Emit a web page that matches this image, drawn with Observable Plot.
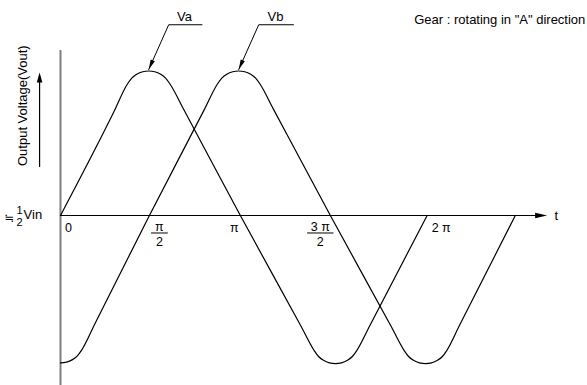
<!DOCTYPE html>
<html>
<head>
<meta charset="utf-8">
<script src="https://cdn.jsdelivr.net/npm/d3@7"></script>
<script src="https://cdn.jsdelivr.net/npm/@observablehq/plot@0.6"></script>
<style>
  html, body { margin: 0; padding: 0; background: #fff; }
  #chart svg { display: block; }
</style>
</head>
<body>
<div id="chart"></div>
<script>
// ---- data (t in multiples of π, v relative to ½Vin; peak = 1) ----
const vaT = [0, 0.293, 0.368, 0.392, 0.419, 0.452, 0.485, 0.518, 0.551, 0.578, 0.602, 0.680, 0.989,
             1.325, 1.395, 1.419, 1.446, 1.479, 1.512, 1.545, 1.578, 1.605, 1.629, 1.700, 2.016];
const vaV = [0, 0.716, 0.910, 0.951, 0.9775, 0.995, 1.0, 0.995, 0.9775, 0.951, 0.910, 0.728, 0,
             -0.772, -0.935, -0.976, -1.0025, -1.020, -1.025, -1.020, -1.0025, -0.976, -0.935, -0.765, 0];
const vbT = [0, 0.033, 0.066, 0.093, 0.117, 0.190, 0.489, 0.790, 0.863, 0.887, 0.914, 0.947, 0.980,
             1.013, 1.046, 1.073, 1.097, 1.170, 1.484, 1.820, 1.890, 1.914, 1.941, 1.974, 2.007,
             2.040, 2.073, 2.100, 2.124, 2.195, 2.501];
const vbV = [-1.020, -1.015, -0.9975, -0.971, -0.930, -0.747, 0, 0.731, 0.910, 0.951, 0.9775, 0.995, 1.0,
             0.995, 0.9775, 0.951, 0.910, 0.738, 0, -0.772, -0.935, -0.976, -1.0025, -1.020, -1.025,
             -1.020, -1.0025, -0.976, -0.935, -0.758, 0];

const seriesNames = ["Va", "Vb"];
const leaderT = [[0.778, 0.595, 0.485], [1.281, 1.090, 0.980]];
const leaderV = [[1.320, 1.320, 1.010], [1.320, 1.320, 1.010]];
const seriesLabelT = [0.682, 1.182];
const seriesLabelV = [1.372, 1.372];

const tickValues = [0, 0.5, 1, 1.5, 2];
const tickNumer  = ["0", "π", "π", "3 π", "2 π"];
const tickDenom  = [null, "2", null, "2", null];

const yLabel = "Output Voltage(Vout)";
const xLabel = "t";
const originLabel = ["\u2252", "1", "2", "Vin"];
const note = "Gear : rotating in \"A\" direction";

// axis extents (data units)
const xAxisEnd = 2.676;
const yAxisTop = 1.142, yAxisBottom = -1.176;
const yArrowT = -0.115, yArrowFrom = 0.339, yArrowTo = 0.990;

// ---- styles / layout ----
const W = 587, H = 385;
const FONT = "Liberation Sans, Arial, Helvetica, sans-serif";
const xScaleOpt = {domain: [0, 2.7], range: [60, 551]};
const yScaleOpt = {domain: [-1.025, 1], range: [363.1, 70.5]};
const xs = Plot.scale({x: xScaleOpt});
const ys = Plot.scale({y: yScaleOpt});
const tickDx = [8, 8, -8, -13, 17];     // label offsets (px) from tick value
const fracHalf = [0, 8, 0, 12.8, 0];    // half width of fraction bar (px)
const shiftX = (v, px) => xs.invert(xs.apply(v) + px);
const shiftY = (v, px) => ys.invert(ys.apply(v) + px);

// ---- tables ----
const curves = [
  ...vaT.map((t, i) => ({s: "Va", t, v: vaV[i]})),
  ...vbT.map((t, i) => ({s: "Vb", t, v: vbV[i]}))
];
const leaders = seriesNames.flatMap((s, k) => leaderT[k].map((t, i) => ({s, t, v: leaderV[k][i]})));
function angle(t1, v1, t2, v2) {
  const dx = xs.apply(t2) - xs.apply(t1), dy = ys.apply(v2) - ys.apply(v1);
  return Math.atan2(dx, -dy) * 180 / Math.PI;
}
const heads = seriesNames.map((s, k) => ({
  t: leaderT[k][2], v: leaderV[k][2],
  a: angle(leaderT[k][1], leaderV[k][1], leaderT[k][2], leaderV[k][2])
}));
const headSym = (len, half) => ({draw(ctx) { ctx.moveTo(0, 0); ctx.lineTo(-half, len); ctx.lineTo(half, len); ctx.closePath(); }});
const ticks = tickValues.map((v, i) => ({v, n: tickNumer[i], d: tickDenom[i], dx: tickDx[i], hw: fracHalf[i]}));
const fracs = ticks.filter(d => d.d);
const simple = ticks.filter(d => !d.d);
const bars = fracs.flatMap((d, k) => [
  {k, t: shiftX(d.v, d.dx - d.hw), v: shiftY(0, 17.5)},
  {k, t: shiftX(d.v, d.dx + d.hw), v: shiftY(0, 17.5)}
]);

const chart = Plot.plot({
  width: W, height: H,
  marginLeft: 0, marginRight: 0, marginTop: 0, marginBottom: 0,
  x: {...xScaleOpt, axis: null},
  y: {...yScaleOpt, axis: null},
  style: {fontFamily: FONT, fontSize: "12px", background: "#fff", overflow: "visible"},
  marks: [
    // vertical axis (gray)
    Plot.ruleX([0], {y1: yAxisBottom, y2: yAxisTop, stroke: "#808080", strokeWidth: 2}),
    // horizontal axis + arrow
    Plot.line([{t: 0, v: 0}, {t: xAxisEnd - 0.02, v: 0}], {x: "t", y: "v", stroke: "#000", strokeWidth: 1.2}),
    Plot.dot([{t: xAxisEnd, v: 0}], {x: "t", y: "v", symbol: headSym(12, 2.8), fill: "#000", stroke: "none", rotate: angle(0, 0, xAxisEnd, 0)}),
    Plot.text([xLabel], {x: 2.727, y: 0, text: d => d, textAnchor: "middle", fontSize: 13, fill: "#000"}),
    // waveforms
    Plot.line(curves, {x: "t", y: "v", z: "s", curve: "monotone-x", stroke: "#000", strokeWidth: 1.2}),
    // leaders
    Plot.line(leaders, {x: "t", y: "v", z: "s", stroke: "#000", strokeWidth: 1}),
    Plot.dot(heads, {x: "t", y: "v", symbol: headSym(10, 2.3), fill: "#000", stroke: "none", rotate: "a"}),
    Plot.text(seriesNames, {x: (d, i) => seriesLabelT[i], y: (d, i) => seriesLabelV[i], text: d => d, fontSize: 13, fill: "#000"}),
    // note
    Plot.text([note], {x: 2.886, y: 1.356, text: d => d, textAnchor: "end", fontSize: 13, fill: "#000"}),
    // y label + arrow
    Plot.text([yLabel], {x: -0.209, y: 0.760, text: d => d, rotate: -90, fontSize: 13, fill: "#000"}),
    Plot.line([{t: yArrowT, v: yArrowFrom}, {t: yArrowT, v: yArrowTo - 0.03}], {x: "t", y: "v", stroke: "#000", strokeWidth: 1.2}),
    Plot.dot([{t: yArrowT, v: yArrowTo}], {x: "t", y: "v", symbol: headSym(10, 2.8), fill: "#000", stroke: "none", rotate: 0}),
    // origin label ≒ ½Vin
    Plot.text([originLabel[0]], {x: -0.280, y: -0.017, text: d => d, fontSize: 12, fill: "#000", fontFamily: "Noto Sans CJK JP, DejaVu Sans, sans-serif"}),
    Plot.text([originLabel[1]], {x: -0.225, y: 0.036, text: d => d, fontSize: 11, fill: "#000"}),
    Plot.text([originLabel[2]], {x: -0.225, y: -0.046, text: d => d, fontSize: 11, fill: "#000"}),
    Plot.text([originLabel[3]], {x: -0.203, y: 0.007, text: d => d, textAnchor: "start", fontSize: 13, fill: "#000"}),
    // tick labels
    Plot.text(simple, {x: d => shiftX(d.v, d.dx), y: () => shiftY(0, 13), text: "n", fontSize: 12.5, fill: "#000"}),
    Plot.text(fracs, {x: d => shiftX(d.v, d.dx), y: () => shiftY(0, 11.5), text: "n", fontSize: 12.5, fill: "#000"}),
    Plot.text(fracs, {x: d => shiftX(d.v, d.dx), y: () => shiftY(0, 26.5), text: "d", fontSize: 12.5, fill: "#000"}),
    Plot.line(bars, {x: "t", y: "v", z: "k", stroke: "#000", strokeWidth: 1})
  ]
});
document.getElementById("chart").appendChild(chart);
</script>
</body>
</html>
